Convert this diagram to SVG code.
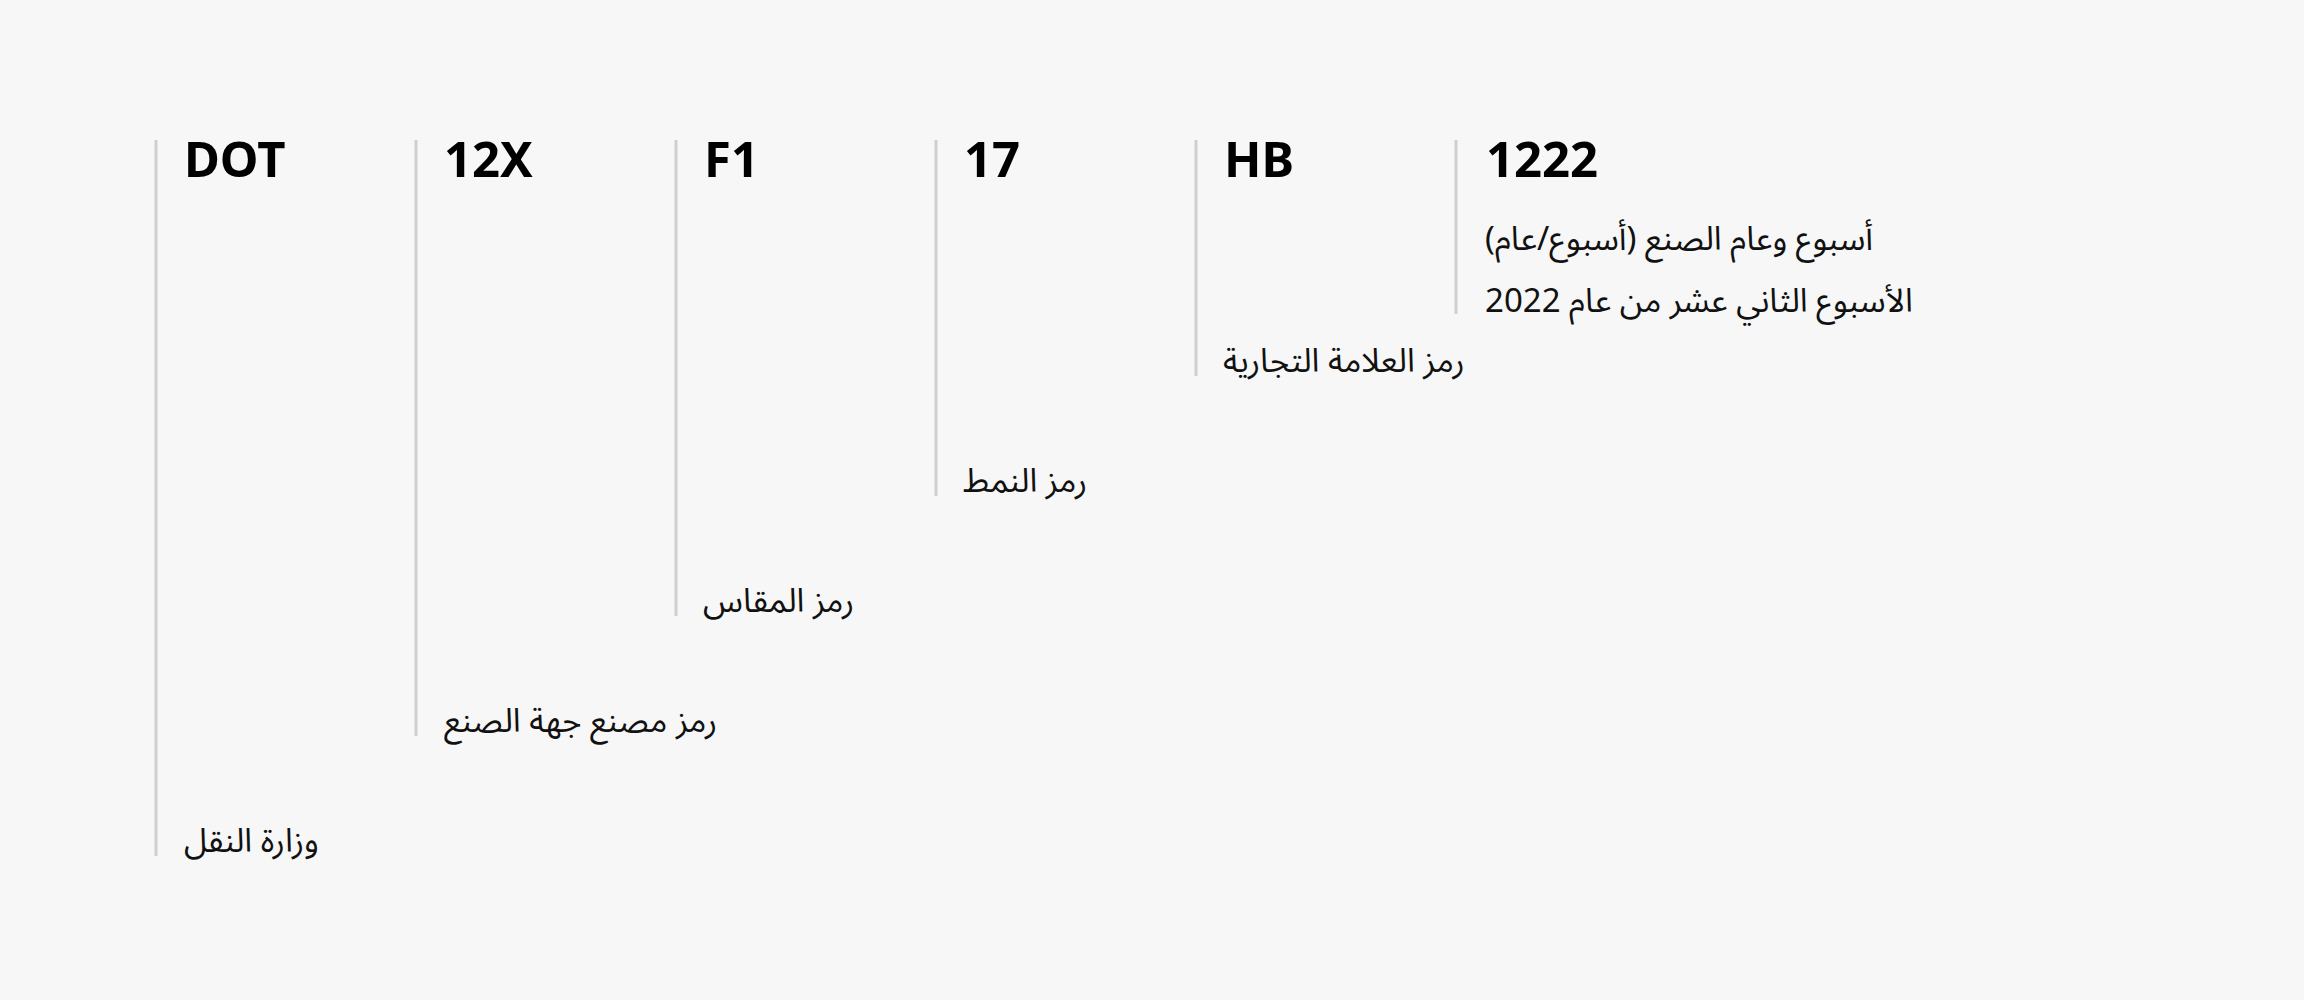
<svg xmlns="http://www.w3.org/2000/svg" width="2304" height="1000" viewBox="0 0 2304 1000">
<style>
.bar{stroke:#cfcfcf;stroke-width:3;fill:none}
.code{font-family:"Noto Sans","DejaVu Sans",sans-serif;font-weight:700;font-size:49px;fill:#000}
.lab{font-family:"Noto Sans Arabic","DejaVu Sans","Noto Sans",sans-serif;font-size:33px;fill:#111}
</style>
<rect width="2304" height="1000" fill="#f7f7f7"/>
<g id="connectors">
<line class="bar" x1="156" y1="140" x2="156" y2="856"/>
<line class="bar" x1="416" y1="140" x2="416" y2="736"/>
<line class="bar" x1="676" y1="140" x2="676" y2="616"/>
<line class="bar" x1="936" y1="140" x2="936" y2="496"/>
<line class="bar" x1="1196" y1="140" x2="1196" y2="376"/>
<line class="bar" x1="1456" y1="140" x2="1456" y2="314"/>
</g>
<g id="node-dot">
<text class="code" x="184" y="177">DOT</text>
<text class="lab" x="184" y="852" direction="rtl" text-anchor="end">وزارة النقل</text>
</g>
<g id="node-12x">
<text class="code" x="444" y="177">12X</text>
<text class="lab" x="444" y="732" direction="rtl" text-anchor="end">رمز مصنع جهة الصنع</text>
</g>
<g id="node-f1">
<text class="code" x="704" y="177">F1</text>
<text class="lab" x="703" y="612" direction="rtl" text-anchor="end">رمز المقاس</text>
</g>
<g id="node-17">
<text class="code" x="964" y="177">17</text>
<text class="lab" x="963" y="492" direction="rtl" text-anchor="end">رمز النمط</text>
</g>
<g id="node-hb">
<text class="code" x="1224" y="177">HB</text>
<text class="lab" x="1223" y="372" direction="rtl" text-anchor="end">رمز العلامة التجارية</text>
</g>
<g id="node-1222">
<text class="code" x="1486" y="177">1222</text>
<text class="lab" x="1485" y="250" direction="rtl" text-anchor="end">أسبوع وعام الصنع (أسبوع/عام)</text>
<text class="lab" x="1485" y="312" direction="rtl" text-anchor="end">الأسبوع الثاني عشر من عام 2022</text>
</g>
</svg>
